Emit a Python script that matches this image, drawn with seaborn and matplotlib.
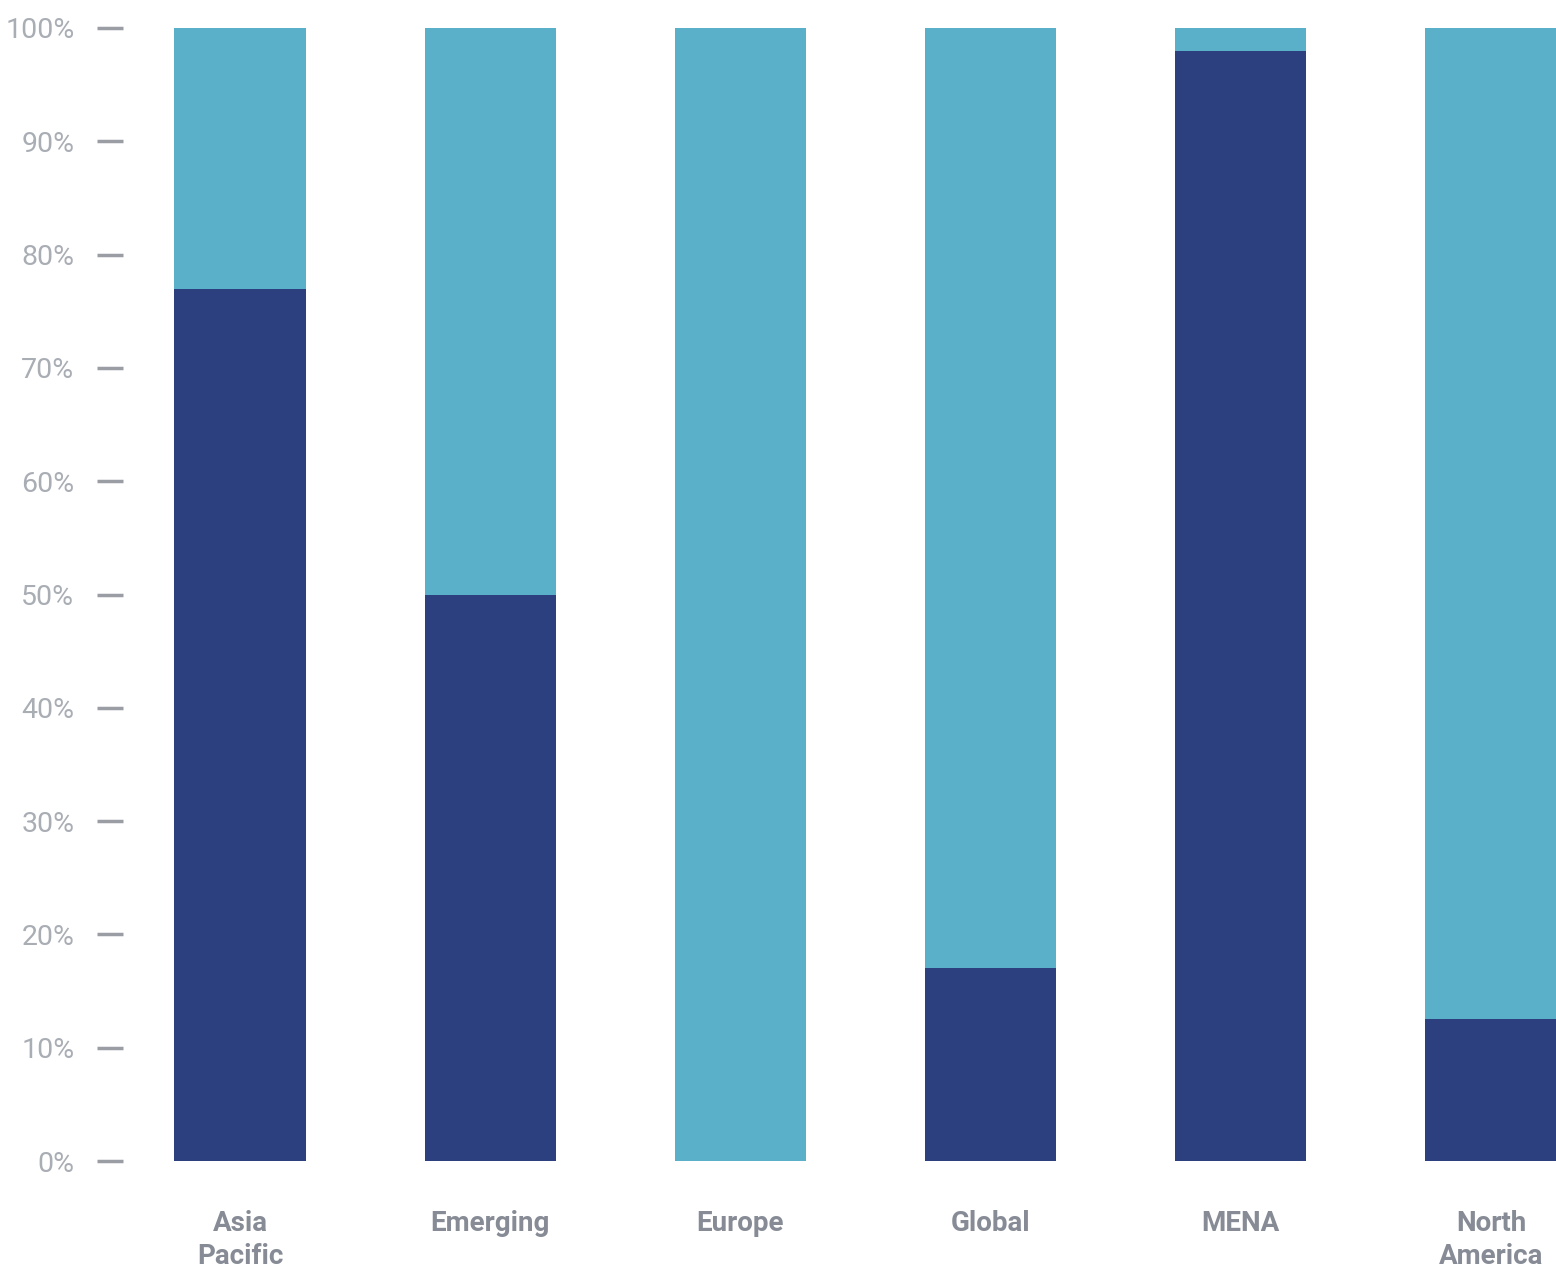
import matplotlib
matplotlib.use("Agg")
import matplotlib.pyplot as plt
import seaborn as sns
import pandas as pd

regions = ["Asia\nPacific", "Emerging", "Europe", "Global", "MENA", "North\nAmerica"]
dark_share = [77, 50, 0, 17, 98, 12.5]
light_share = [23, 50, 100, 83, 2, 87.5]
y_ticks = [0, 10, 20, 30, 40, 50, 60, 70, 80, 90, 100]
y_tick_labels = [f"{t}%" for t in y_ticks]

DARK = "#2C3F7E"
LIGHT = "#5AB0C8"

sns.set_theme(style="white")
plt.rcParams['font.family'] = ["Roboto", "DejaVu Sans"]

df = pd.DataFrame({"region": regions, "dark": dark_share,
                   "total": [d + l for d, l in zip(dark_share, light_share)]})

fig = plt.figure(figsize=(15.56, 12.79), dpi=100)
ax = fig.add_axes([123/1556, 1 - 1161/1279, 1 - 123/1556, (1161 - 28)/1279])

sns.barplot(data=df, x="region", y="total", color=LIGHT, width=0.525,
            saturation=1, ax=ax, linewidth=0)
sns.barplot(data=df, x="region", y="dark", color=DARK, width=0.525,
            saturation=1, ax=ax, linewidth=0)

ax.set_xlim(-0.468, 5.26)
ax.set_ylim(0, 100)
ax.set_yticks(y_ticks)
ax.set_yticklabels(y_tick_labels, fontsize=20.5, color="#A9ADB4")
ax.tick_params(axis="y", left=True, length=19, width=2.5, color="#9A9DA3", pad=16)
ax.tick_params(axis="x", bottom=False, pad=29)
for lab in ax.get_xticklabels():
    lab.set_fontsize(20)
    lab.set_color("#868B95")
    lab.set_fontweight("bold")
    lab.set_linespacing(1.3)
ax.set_xlabel("")
ax.set_ylabel("")
for s in ax.spines.values():
    s.set_visible(False)
ax.grid(False)

fig.savefig("out.png", dpi=100, facecolor="white")
